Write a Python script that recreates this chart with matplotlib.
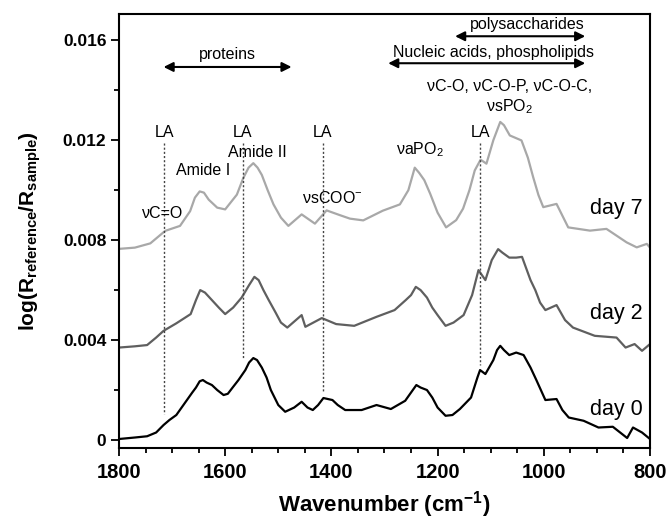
import matplotlib
matplotlib.use("Agg")
import matplotlib.pyplot as plt
from matplotlib.ticker import MultipleLocator

plt.rcParams['font.family'] = ['Liberation Sans', 'DejaVu Sans']
plt.rcParams['mathtext.fontset'] = 'custom'
plt.rcParams['mathtext.rm'] = 'Liberation Sans'
plt.rcParams['mathtext.it'] = 'Liberation Sans:italic'
plt.rcParams['mathtext.bf'] = 'Liberation Sans:bold'

# ---- data ----
wn_day0 = [1800, 1770, 1747, 1730, 1716, 1705, 1692, 1682, 1672, 1662, 1655, 1648, 1642, 1635, 1625,
           1615, 1603, 1595, 1586, 1575, 1562, 1555, 1547, 1540, 1531, 1522, 1514, 1500, 1487, 1470,
           1456, 1445, 1435, 1425, 1415, 1398, 1388, 1374, 1343, 1315, 1288, 1261, 1250, 1240, 1232,
           1220, 1210, 1200, 1185, 1172, 1158, 1137, 1125, 1120, 1110, 1095, 1088, 1082, 1075, 1065,
           1052, 1038, 1025, 1014, 997, 976, 965, 953, 925, 897, 870, 843, 832, 815, 800]
day0 = [0.00004, 0.0001, 0.00015, 0.0003, 0.0006, 0.0008, 0.001, 0.0013, 0.0016, 0.0019, 0.0021,
        0.00235, 0.0024, 0.0023, 0.0022, 0.002, 0.0018, 0.00185, 0.0021, 0.0024, 0.0028, 0.0031,
        0.00328, 0.0032, 0.0029, 0.0025, 0.002, 0.0014, 0.00113, 0.0013, 0.00153, 0.0013, 0.0012,
        0.0014, 0.00168, 0.0016, 0.0014, 0.0012, 0.0012, 0.0014, 0.00124, 0.00157, 0.0019, 0.0022,
        0.0021, 0.002, 0.0017, 0.0013, 0.00097, 0.001, 0.00124, 0.0017, 0.0025, 0.0028, 0.00264,
        0.0032, 0.0036, 0.00377, 0.0036, 0.0034, 0.0035, 0.0034, 0.0029, 0.0024, 0.0016, 0.00164,
        0.0012, 0.0009, 0.00077, 0.0005, 0.00053, 0.00008, 0.0005, 0.0003, 0.00004]

wn_day2 = [1800, 1770, 1747, 1730, 1716, 1692, 1665, 1655, 1647, 1638, 1625, 1612, 1600, 1585, 1569,
           1555, 1545, 1537, 1528, 1518, 1505, 1495, 1483, 1456, 1449, 1418, 1391, 1357, 1315, 1281,
           1260, 1250, 1241, 1232, 1220, 1210, 1200, 1185, 1170, 1151, 1135, 1123, 1110, 1098, 1086,
           1078, 1065, 1052, 1041, 1025, 1016, 1007, 997, 976, 960, 945, 904, 863, 846, 829, 815, 800]
day2 = [0.0037, 0.00375, 0.0038, 0.0041, 0.00437, 0.00467, 0.00504, 0.0056, 0.006, 0.0059, 0.0056,
        0.0053, 0.00504, 0.0053, 0.0057, 0.0062, 0.00653, 0.0064, 0.006, 0.0056, 0.0051, 0.0047,
        0.0045, 0.005, 0.00453, 0.00488, 0.00464, 0.00457, 0.00493, 0.0052, 0.0056, 0.0058, 0.00613,
        0.006, 0.0057, 0.0053, 0.005, 0.00457, 0.0047, 0.005, 0.0058, 0.0068, 0.0064, 0.0072,
        0.00764, 0.0075, 0.0073, 0.0073, 0.00733, 0.0064, 0.006, 0.0055, 0.0052, 0.0054, 0.0048,
        0.0045, 0.00417, 0.0041, 0.0037, 0.00384, 0.00357, 0.00384]

wn_day7 = [1800, 1770, 1741, 1713, 1685, 1666, 1657, 1648, 1640, 1631, 1615, 1600, 1578, 1566, 1556,
           1547, 1539, 1531, 1520, 1509, 1495, 1481, 1456, 1431, 1409, 1384, 1365, 1340, 1303, 1271,
           1255, 1243, 1235, 1225, 1214, 1200, 1184, 1165, 1152, 1140, 1130, 1119, 1108, 1095, 1082,
           1075, 1064, 1042, 1030, 1020, 1010, 1001, 976, 954, 913, 882, 844, 825, 806, 800]
day7 = [0.00765, 0.0077, 0.00787, 0.00837, 0.00857, 0.00916, 0.0097, 0.00995, 0.0099, 0.00962,
        0.0093, 0.00923, 0.00982, 0.01048, 0.0109, 0.01108, 0.0109, 0.01061, 0.0100, 0.00943,
        0.0089, 0.00857, 0.00903, 0.00866, 0.00919, 0.009, 0.00886, 0.00879, 0.00918, 0.00943,
        0.0100, 0.0109, 0.0107, 0.0104, 0.00986, 0.0091, 0.00851, 0.0088, 0.00926, 0.0100, 0.01079,
        0.01122, 0.01106, 0.0120, 0.01273, 0.0126, 0.01219, 0.01199, 0.0113, 0.01052, 0.0098,
        0.00932, 0.00945, 0.00851, 0.00838, 0.00845, 0.00791, 0.00771, 0.00785, 0.0077]

series_labels = ['day 0', 'day 2', 'day 7']
label_y = [0.00124, 0.00505, 0.00926]

la_positions = [1715, 1567, 1416, 1120]
la_line_bottoms = [0.00104, 0.00325, 0.00197, 0.0030]

yticks = [0, 0.004, 0.008, 0.012, 0.016]
ytick_labels = ['0', '0.004', '0.008', '0.012', '0.016']
xticks = [1800, 1600, 1400, 1200, 1000, 800]

# ---- figure ----
fig = plt.figure(figsize=(6.71, 5.19), dpi=100)
ax = fig.add_axes([0.1773, 0.1368, 0.7914, 0.8362])

ax.plot(wn_day0, day0, color='black', lw=1.6)
ax.plot(wn_day2, day2, color='#5f5f5f', lw=1.6)
ax.plot(wn_day7, day7, color='#a8a8a8', lw=1.6)

ax.set_xlim(1800, 800)
ax.set_ylim(-0.00032, 0.01705)

ax.set_yticks(yticks)
ax.set_yticklabels(ytick_labels, fontsize=12.5, fontweight='bold')
ax.yaxis.set_minor_locator(MultipleLocator(0.002))
ax.set_xticks(xticks)
ax.set_xticklabels([str(t) for t in xticks], fontsize=14.5, fontweight='bold')
ax.xaxis.set_minor_locator(MultipleLocator(50))
ax.tick_params(axis='both', which='major', direction='out', length=6, width=1.3, top=False, right=False)
ax.tick_params(axis='both', which='minor', direction='out', length=3.5, width=1.3, top=False, right=False)
ax.tick_params(axis='x', which='major', pad=5)
ax.tick_params(axis='y', which='major', pad=3)
for s in ax.spines.values():
    s.set_linewidth(1.5)

ax.set_xlabel(r'Wavenumber (cm$^{\mathbf{-1}}$)', fontsize=16, fontweight='bold', labelpad=5)
ax.set_ylabel(r'log(R$_{\mathbf{reference}}$/R$_{\mathbf{sample}}$)', fontsize=15, fontweight='bold', labelpad=14)

# LA lines and labels
for x, yb in zip(la_positions, la_line_bottoms):
    ax.plot([x, x], [0.0119, yb], color='#444444', lw=1.0, ls=(0, (1.5, 1.5)))
    ax.text(x, 0.01232, 'LA', ha='center', va='center', fontsize=11.5)

fs = 11.5
ax.text(1717, 0.00906, 'νC=O', ha='center', va='center', fontsize=fs)
ax.text(1642, 0.01079, 'Amide I', ha='center', va='center', fontsize=fs)
ax.text(1540, 0.01152, 'Amide II', ha='center', va='center', fontsize=fs)
ax.text(1399, 0.0097, 'νsCOO$^{-}$', ha='center', va='center', fontsize=fs)
ax.text(1234, 0.01163, 'νaPO$_2$', ha='center', va='center', fontsize=fs)
ax.text(1065, 0.01416, 'νC-O, νC-O-P, νC-O-C,', ha='center', va='center', fontsize=fs)
ax.text(1065, 0.01335, 'νsPO$_2$', ha='center', va='center', fontsize=fs)

ax.text(1595, 0.01544, 'proteins', ha='center', va='center', fontsize=fs)
ax.text(1094, 0.01549, 'Nucleic acids, phospholipids', ha='center', va='center', fontsize=fs)
ax.text(1032, 0.01664, 'polysaccharides', ha='center', va='center', fontsize=fs)

arrow_kw = dict(arrowstyle='<|-|>', color='black', lw=1.5, mutation_scale=14, shrinkA=0, shrinkB=0)
ax.annotate('', xy=(1716, 0.01493), xytext=(1475, 0.01493), arrowprops=arrow_kw)
ax.annotate('', xy=(1293, 0.01508), xytext=(922, 0.01508), arrowprops=arrow_kw)
ax.annotate('', xy=(1167, 0.01616), xytext=(922, 0.01616), arrowprops=arrow_kw)

for lab, yy in zip(series_labels, label_y):
    ax.text(813, yy, lab, ha='right', va='center', fontsize=15.5)

fig.savefig('out.png', dpi=100)
